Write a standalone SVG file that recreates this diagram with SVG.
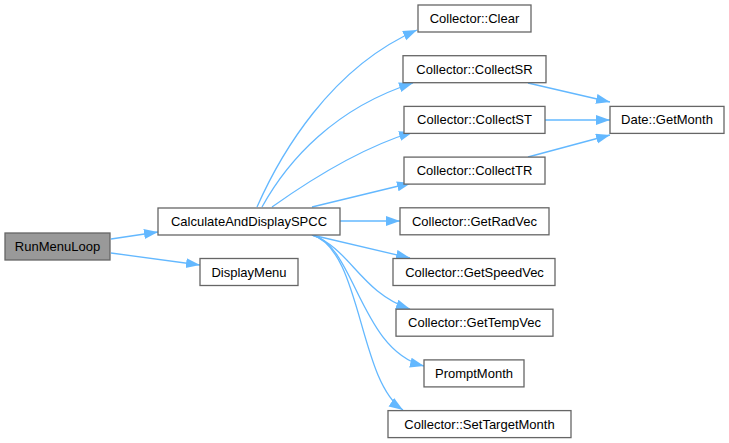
<svg xmlns="http://www.w3.org/2000/svg" width="729" height="443" viewBox="0 0 729 443">
<defs>
<marker id="ah" markerUnits="userSpaceOnUse" markerWidth="16" markerHeight="12" refX="14" refY="5" orient="auto">
<path d="M0,0 L14,5 L0,10 z" fill="#63b8ff"/>
</marker>
<style>
.n rect{fill:#ffffff;stroke:#666666;stroke-width:1.3}
.n.root rect{fill:#999999}
.n text{font-family:"Liberation Sans",Arial,sans-serif;font-size:13px;fill:#000000;text-anchor:middle}
.e path{fill:none;stroke:#63b8ff;stroke-width:1.3;marker-end:url(#ah)}
</style>
</defs>
<rect width="729" height="443" fill="#ffffff"/>
<g id="connectors" class="e">
<path d="M111,239 L158,232"/>
<path d="M111,253 L200,265"/>
<path d="M257,207 C280,155 330,68 417,30"/>
<path d="M262,207 C288,160 335,108 413,83"/>
<path d="M272,207 C310,180 360,148 413,132"/>
<path d="M312,207 L411,183"/>
<path d="M340,221 L400,221"/>
<path d="M312,235 L410,258"/>
<path d="M312,235 C350,248 360,292 410,309"/>
<path d="M312,235 C355,245 360,350 424,366"/>
<path d="M312,235 C362,250 358,380 403,410"/>
<path d="M528,83 L610,102"/>
<path d="M545,120 L610,120"/>
<path d="M528,157 L610,135"/>
</g>
<g id="RunMenuLoop" class="n root"><rect x="5" y="233" width="105" height="27"/><text x="57.5" y="251">RunMenuLoop</text></g>
<g id="CalculateAndDisplaySPCC" class="n"><rect x="158" y="208" width="182" height="27"/><text x="249" y="226">CalculateAndDisplaySPCC</text></g>
<g id="DisplayMenu" class="n"><rect x="200" y="258.5" width="98" height="27"/><text x="249" y="276.5">DisplayMenu</text></g>
<g id="Clear" class="n"><rect x="418" y="5" width="113" height="27"/><text x="474.5" y="23">Collector::Clear</text></g>
<g id="CollectSR" class="n"><rect x="403" y="55.7" width="143" height="27"/><text x="474.5" y="73.7">Collector::CollectSR</text></g>
<g id="CollectST" class="n"><rect x="404" y="106.4" width="141" height="27"/><text x="474.5" y="124.4">Collector::CollectST</text></g>
<g id="CollectTR" class="n"><rect x="404" y="157.1" width="141" height="27"/><text x="474.5" y="175.1">Collector::CollectTR</text></g>
<g id="GetRadVec" class="n"><rect x="400" y="207.8" width="149" height="27"/><text x="474.5" y="225.8">Collector::GetRadVec</text></g>
<g id="GetSpeedVec" class="n"><rect x="393" y="258.5" width="162" height="27"/><text x="474.5" y="276.5">Collector::GetSpeedVec</text></g>
<g id="GetTempVec" class="n"><rect x="396" y="309.2" width="157" height="27"/><text x="474.5" y="327.2">Collector::GetTempVec</text></g>
<g id="PromptMonth" class="n"><rect x="424" y="359.9" width="100" height="27"/><text x="474" y="377.9">PromptMonth</text></g>
<g id="SetTargetMonth" class="n"><rect x="388" y="410.6" width="183" height="27"/><text x="479.5" y="428.6">Collector::SetTargetMonth</text></g>
<g id="GetMonth" class="n"><rect x="610" y="106.4" width="114" height="27"/><text x="667" y="124.4">Date::GetMonth</text></g>
</svg>
